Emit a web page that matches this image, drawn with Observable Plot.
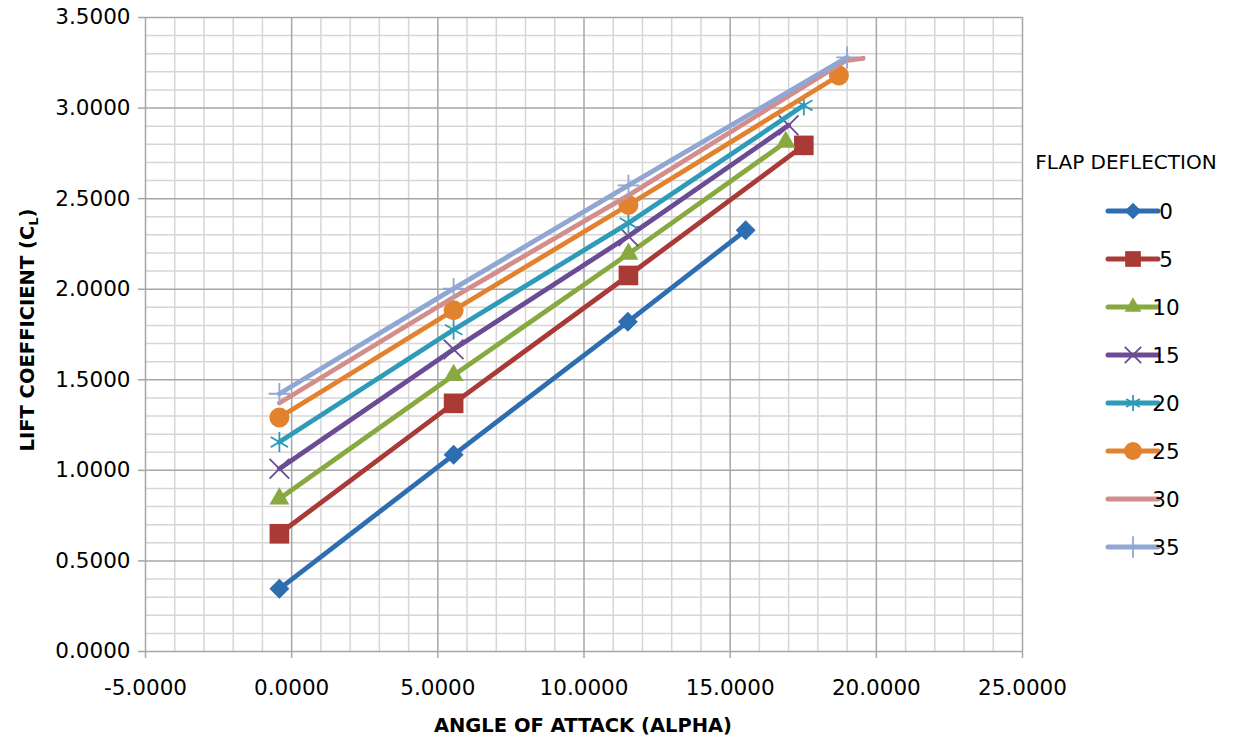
<!DOCTYPE html>
<html>
<head>
<meta charset="utf-8">
<script src="https://cdn.jsdelivr.net/npm/d3@7"></script>
<script src="https://cdn.jsdelivr.net/npm/@observablehq/plot@0.6"></script>
<style>
  html, body { margin: 0; padding: 0; background: #fff; }
  #chart { width: 1233px; height: 745px; }
</style>
</head>
<body>
<div id="chart"></div>
<script>
// ---- data ----
const flaps = ["0", "5", "10", "15", "20", "25", "30", "35"];
const alpha0  = [-0.42, 5.54, 11.50, 15.53];
const cl0     = [0.346, 1.086, 1.820, 2.325];
const alpha5  = [-0.42, 5.54, 11.52, 17.52];
const cl5     = [0.650, 1.370, 2.076, 2.794];
const alpha10 = [-0.42, 5.54, 11.52, 16.90];
const cl10    = [0.843, 1.525, 2.195, 2.812];
const alpha15 = [-0.42, 5.54, 11.52, 17.00];
const cl15    = [1.009, 1.668, 2.292, 2.905];
const alpha20 = [-0.42, 5.54, 11.52, 17.52];
const cl20    = [1.156, 1.776, 2.365, 3.015];
const alpha25 = [-0.42, 5.54, 11.52, 18.72];
const cl25    = [1.292, 1.884, 2.465, 3.180];
const alpha30 = [-0.42, 5.54, 11.52, 18.95, 19.55];
const cl30    = [1.372, 1.956, 2.518, 3.262, 3.275];
const alpha35 = [-0.42, 5.54, 11.52, 19.00];
const cl35    = [1.423, 2.003, 2.573, 3.280];

const xTicks = [-5, 0, 5, 10, 15, 20, 25];
const yTicks = [0, 0.5, 1, 1.5, 2, 2.5, 3, 3.5];

// ---- styles ----
const colors  = ["#2E6DB0", "#A93A36", "#88A840", "#6B4C94", "#2E9CB8", "#E2822E", "#D38E8C", "#8FA7D2"];
const symbols = ["diamond2", "square2", "triangle2", "times", "asterisk", "circle", null, "plus"];
const radii   = [9, 12.5, 9.5, 9, 9.5, 10, 0, 7];
const filled  = [true, true, true, false, false, true, false, false];

const alphas = [alpha0, alpha5, alpha10, alpha15, alpha20, alpha25, alpha30, alpha35];
const cls    = [cl0, cl5, cl10, cl15, cl20, cl25, cl30, cl35];
const table = flaps.flatMap((f, i) => alphas[i].map((a, j) => ({flap: f, alpha: a, cl: cls[i][j]})));

const minorX = d3.range(-5, 26, 1).filter(v => v % 5 !== 0);
const minorY = d3.range(0, 36, 1).filter(v => v % 5 !== 0).map(v => v / 10);

const FONT = "DejaVu Sans";
const fmt = d => d.toFixed(4);

const seriesMarks = flaps.flatMap((f, i) => {
  const m = [Plot.line(table, {filter: d => d.flap === f, x: "alpha", y: "cl",
    stroke: colors[i], strokeWidth: 4.8, strokeLinejoin: "round", strokeLinecap: "round"})];
  if (symbols[i]) {
    m.push(Plot.dot(table, {filter: d => d.flap === f, x: "alpha", y: "cl",
      symbol: symbols[i], r: radii[i],
      fill: filled[i] ? colors[i] : "none",
      stroke: colors[i], strokeWidth: filled[i] ? 0 : 1.8}));
  }
  return m;
});

const chart = Plot.plot({
  width: 1233,
  height: 745,
  marginLeft: 145,
  marginRight: 211,
  marginTop: 17,
  marginBottom: 94,
  style: {fontFamily: FONT, fontSize: "21.5px", color: "#000", background: "#fff"},
  x: {domain: [-5, 25]},
  y: {domain: [0, 3.5]},
  marks: [
    Plot.ruleX(minorX, {stroke: "#d6d6d6", strokeWidth: 1.5}),
    Plot.ruleY(minorY, {stroke: "#d6d6d6", strokeWidth: 1.5}),
    Plot.ruleX(xTicks, {stroke: "#a6a6a6", strokeWidth: 1.5}),
    Plot.ruleY(yTicks, {stroke: "#a6a6a6", strokeWidth: 1.5}),
    Plot.axisX({ticks: xTicks, tickFormat: fmt, tickSize: 7, tickPadding: 21,
      stroke: "#a6a6a6", strokeWidth: 1.5, label: null, fill: "#000"}),
    Plot.axisY({ticks: yTicks, tickFormat: fmt, tickSize: 7, tickPadding: 8,
      stroke: "#a6a6a6", strokeWidth: 1.5, label: null, fill: "#000"}),
    ...seriesMarks
  ]
});
document.getElementById("chart").appendChild(chart);

// ---- axis titles and legend ----
const svg = d3.select(chart);
svg.append("text")
  .attr("x", 583).attr("y", 732)
  .attr("text-anchor", "middle")
  .attr("font-family", FONT).attr("font-weight", "bold").attr("font-size", 19.5)
  .attr("fill", "#000")
  .text("ANGLE OF ATTACK (ALPHA)");

const yt = svg.append("text")
  .attr("transform", "translate(34,330) rotate(-90)")
  .attr("text-anchor", "middle")
  .attr("font-family", FONT).attr("font-weight", "bold").attr("font-size", 19.5)
  .attr("fill", "#000");
yt.append("tspan").text("LIFT COEFFICIENT (C");
yt.append("tspan").attr("font-size", 13).attr("dy", 4).text("L");
yt.append("tspan").attr("dy", -4).text(")");

const lg = svg.append("g").attr("font-family", FONT);
lg.append("text").attr("x", 1126).attr("y", 169).attr("text-anchor", "middle")
  .attr("font-size", 20).attr("fill", "#000").text("FLAP DEFLECTION");

const symMap = {diamond2: d3.symbolDiamond2, square2: d3.symbolSquare2, triangle2: d3.symbolTriangle2,
  times: d3.symbolTimes, asterisk: d3.symbolAsterisk, circle: d3.symbolCircle, plus: d3.symbolPlus};
const legendRadii = [7.5, 10, 8, 7.5, 7.5, 9, 0, 7];
flaps.forEach((f, i) => {
  const y = 211 + i * 48;
  const g = lg.append("g");
  g.append("line").attr("x1", 1108).attr("x2", 1158).attr("y1", y).attr("y2", y)
    .attr("stroke", colors[i]).attr("stroke-width", 5).attr("stroke-linecap", "round");
  if (symbols[i]) {
    const size = Math.PI * legendRadii[i] * legendRadii[i];
    g.append("path").attr("d", d3.symbol(symMap[symbols[i]], size)())
      .attr("transform", `translate(1133,${y})`)
      .attr("fill", filled[i] ? colors[i] : "none")
      .attr("stroke", colors[i]).attr("stroke-width", filled[i] ? 0 : 1.8);
  }
  g.append("text").attr("x", 1166).attr("y", y).attr("dy", "0.36em")
    .attr("font-size", 21.5).attr("fill", "#000").text(f);
});
</script>
</body>
</html>
